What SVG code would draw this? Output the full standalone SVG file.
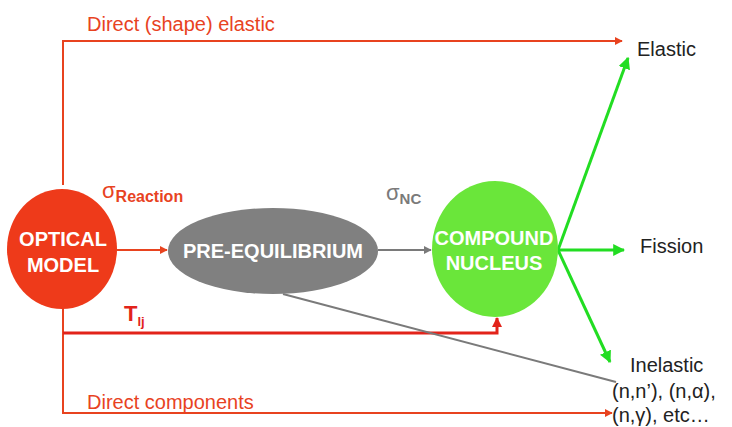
<svg xmlns="http://www.w3.org/2000/svg" width="732" height="427" viewBox="0 0 732 427">
<style>
.red{stroke:#e8431f;stroke-width:2;fill:none}
.redt{stroke:#e2231a;stroke-width:3;fill:none}
.gray{stroke:#7a7a7a;stroke-width:2;fill:none}
.green{stroke:#22dd22;stroke-width:3;fill:none}
.lbl{font-family:"Liberation Sans",Arial,sans-serif;font-size:20px}
.node{font-family:"Liberation Sans",Arial,sans-serif;font-size:20px;font-weight:bold;fill:#fff;text-anchor:middle}
</style>
<defs>
<marker id="ar" viewBox="0 0 10 10" refX="9" refY="5" markerWidth="4" markerHeight="4" orient="auto"><path d="M0,0L10,5L0,10z" fill="#e8431f"/></marker>
<marker id="art" viewBox="0 0 10 10" refX="9" refY="5" markerWidth="3.5" markerHeight="3.5" orient="auto"><path d="M0,0L10,5L0,10z" fill="#e2231a"/></marker>
<marker id="ag" viewBox="0 0 10 10" refX="9" refY="5" markerWidth="4" markerHeight="4" orient="auto"><path d="M0,0L10,5L0,10z" fill="#7a7a7a"/></marker>
<marker id="agr" viewBox="0 0 10 10" refX="9" refY="5" markerWidth="4" markerHeight="4" orient="auto"><path d="M0,0L10,5L0,10z" fill="#22dd22"/></marker>
</defs>
<g id="connectors">
<path class="red" d="M63,185V41H622" marker-end="url(#ar)"/>
<path class="red" d="M63,300V413H612" marker-end="url(#ar)"/>
<path class="redt" d="M63,333H497V318" marker-end="url(#art)"/>
<path class="red" d="M117,250H167" marker-end="url(#ar)"/>
<path class="gray" d="M378,250H431" marker-end="url(#ag)"/>
<path class="gray" d="M283,294L616,382"/>
<path class="green" d="M558,250L628,58" marker-end="url(#agr)"/>
<path class="green" d="M558,250H624" marker-end="url(#agr)"/>
<path class="green" d="M558,250L610,362" marker-end="url(#agr)"/>
</g>
<g id="optical">
<ellipse cx="62" cy="249" rx="55" ry="60" fill="#ee3a1a"/>
<text class="node" x="63" y="246">OPTICAL</text>
<text class="node" x="63" y="272">MODEL</text>
</g>
<g id="preeq">
<ellipse cx="273" cy="251" rx="105" ry="43" fill="#808080"/>
<text class="node" x="273" y="258">PRE-EQUILIBRIUM</text>
</g>
<g id="compound">
<ellipse cx="495" cy="249" rx="63" ry="68" fill="#6ae63a"/>
<text class="node" x="494" y="245">COMPOUND</text>
<text class="node" x="494" y="270">NUCLEUS</text>
</g>
<g id="labels">
<text class="lbl" x="87" y="31" fill="#e8431f">Direct (shape) elastic</text>
<text class="lbl" x="87" y="409" fill="#e8431f">Direct components</text>
<text class="lbl" x="637" y="56" fill="#222">Elastic</text>
<text class="lbl" x="640" y="253" fill="#222">Fission</text>
<text class="lbl" x="630" y="372" fill="#222">Inelastic</text>
<text class="lbl" x="612" y="398" fill="#222">(n,n’), (n,α),</text>
<text class="lbl" x="612" y="422" fill="#222">(n,γ), etc…</text>
<text x="102" y="198" fill="#e8431f" font-family="Liberation Sans,Arial,sans-serif" font-size="22">σ<tspan font-size="16" font-weight="bold" dy="4">Reaction</tspan></text>
<text x="386" y="200" fill="#7a7a7a" font-family="Liberation Sans,Arial,sans-serif" font-size="22">σ<tspan font-size="15" font-weight="bold" dy="4">NC</tspan></text>
<text x="124" y="321" fill="#e2231a" font-family="Liberation Sans,Arial,sans-serif" font-size="22" font-weight="bold">T<tspan font-size="13" dy="5">lj</tspan></text>
</g>
</svg>
